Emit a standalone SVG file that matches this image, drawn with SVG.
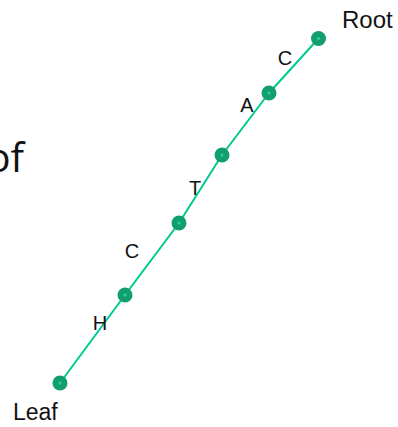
<svg xmlns="http://www.w3.org/2000/svg" width="398" height="427" viewBox="0 0 398 427">
<style>
.edge{stroke:#00c98f;stroke-width:2;fill:none}
.node{fill:#119e71}
.dot{fill:#2bd39a}
.lbl{font-family:"Liberation Sans",Arial,sans-serif;font-size:20px;fill:#111}
.big{font-family:"Liberation Sans",Arial,sans-serif;font-size:23px;fill:#111}
</style>
<rect width="398" height="427" fill="#fff"/>
<text x="24" y="172" text-anchor="end" style="font-family:'Open Sans','Liberation Sans',sans-serif;font-size:40px;fill:#111">of</text>
<g id="connectors">
<line class="edge" x1="318.5" y1="38.5" x2="269" y2="93"/>
<line class="edge" x1="269" y1="93" x2="222" y2="155"/>
<line class="edge" x1="222" y1="155" x2="179" y2="223"/>
<line class="edge" x1="179" y1="223" x2="125" y2="295"/>
<line class="edge" x1="125" y1="295" x2="60" y2="383"/>
</g>
<g id="edge-labels">
<text class="lbl" x="285" y="65" text-anchor="middle">C</text>
<text class="lbl" x="247" y="112" text-anchor="middle">A</text>
<text class="lbl" x="195" y="195" text-anchor="middle">T</text>
<text class="lbl" x="132" y="258" text-anchor="middle">C</text>
<text class="lbl" x="100" y="330" text-anchor="middle">H</text>
</g>
<g id="root"><circle class="node" cx="318.5" cy="38.5" r="7.5"/><circle class="dot" cx="318.5" cy="38.5" r="1.5"/><text class="big" x="342" y="28" style="font-size:24px">Root</text></g>
<g id="n1"><circle class="node" cx="269" cy="93" r="7.5"/><circle class="dot" cx="269" cy="93" r="1.5"/></g>
<g id="n2"><circle class="node" cx="222" cy="155" r="7.5"/><circle class="dot" cx="222" cy="155" r="1.5"/></g>
<g id="n3"><circle class="node" cx="179" cy="223" r="7.5"/><circle class="dot" cx="179" cy="223" r="1.5"/></g>
<g id="n4"><circle class="node" cx="125" cy="295" r="7.5"/><circle class="dot" cx="125" cy="295" r="1.5"/></g>
<g id="leaf"><circle class="node" cx="60" cy="383" r="7.5"/><circle class="dot" cx="60" cy="383" r="1.5"/><text class="big" x="13" y="420">Leaf</text></g>
</svg>
